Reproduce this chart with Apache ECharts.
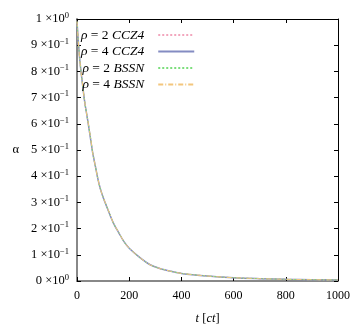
<!DOCTYPE html>
<html><head><meta charset="utf-8">
<script src="https://cdn.jsdelivr.net/npm/echarts@6/dist/echarts.min.js"></script>
<style>html,body{margin:0;padding:0;background:#fff}#c{width:362px;height:332px}</style>
</head><body><div id="c"></div>
<script>
const times = [0,10,20,30,40,50,60,70,80,90,100,120,140,160,180,200,240,280,320,360,400,500,600,700,800,900,1000];
const rho2CCZ4 = [0.99,0.85,0.76,0.68,0.62,0.56,0.49,0.44,0.39,0.35,0.32,0.27,0.22,0.185,0.15,0.125,0.09,0.062,0.047,0.037,0.029,0.019,0.0125,0.009,0.0065,0.005,0.004];
const rho4CCZ4 = [0.99,0.85,0.76,0.68,0.62,0.555,0.49,0.44,0.39,0.35,0.32,0.268,0.22,0.184,0.15,0.125,0.09,0.062,0.047,0.037,0.029,0.019,0.0125,0.009,0.0065,0.005,0.004];
const rho2BSSN = [0.99,0.85,0.76,0.68,0.62,0.56,0.49,0.44,0.39,0.35,0.32,0.27,0.22,0.185,0.15,0.125,0.09,0.062,0.047,0.037,0.029,0.019,0.0125,0.009,0.0065,0.005,0.004];
const rho4BSSN = [0.99,0.85,0.76,0.68,0.62,0.56,0.49,0.44,0.39,0.35,0.32,0.27,0.22,0.185,0.15,0.125,0.09,0.062,0.047,0.037,0.029,0.019,0.0125,0.009,0.0065,0.005,0.004];
const seriesNames = ['ρ = 2 CCZ4','ρ = 4 CCZ4','ρ = 2 BSSN','ρ = 4 BSSN'];
const xTicks = [0,200,400,600,800,1000];

const serif = 'Liberation Serif';
function pairs(ys){ return times.map((t,i)=>[t, ys[i]]); }
function yLabel(v){
  const n = Math.round(v*10);
  if (n === 0) return '{m|0 ×10}{e|0}';
  if (n === 10) return '{m|1 ×10}{e|0}';
  return '{m|' + n + ' ×10}{e|−1}';
}
const richY = {
  m:{fontFamily:serif,fontSize:12.5,color:'#000',lineHeight:16},
  e:{fontFamily:serif,fontSize:8.5,color:'#000',verticalAlign:'top',lineHeight:9}
};
const chart = echarts.init(document.getElementById('c'));
const lineCfg = [
  {color:'#f2a6bd', type:[2,2], width:1},
  {color:'#848cc2', type:'solid', width:1.5},
  {color:'#7cde7c', type:[2,2], width:1},
  {color:'#f3c67c', type:[5,2,1,2], width:1}
];
const data = [rho2CCZ4, rho4CCZ4, rho2BSSN, rho4BSSN];
chart.setOption({
  animation:false,
  backgroundColor:'#fff',
  grid:{left:77, top:19, right:24, bottom:51},
  legend:{
    left:76, top:23, orient:'vertical', align:'right',
    itemWidth:36, itemHeight:10, itemGap:2.5,
    itemStyle:{opacity:0},
    data:seriesNames,
    formatter:function(name){
      const p = name.split(' ');
      return '{i|ρ}{n| = ' + p[2] + ' }{i|' + p[3] + '}';
    },
    textStyle:{padding:[0,9,0,0], rich:{
      i:{fontFamily:serif,fontStyle:'italic',fontSize:13.5,color:'#000',lineHeight:14},
      n:{fontFamily:serif,fontSize:13.5,color:'#000',lineHeight:14}
    }}
  },
  xAxis:[
    {type:'value', min:0, max:1000, interval:200, position:'bottom',
     name:'{i|t} {n|[}{i|ct}{n|]}', nameLocation:'middle', nameGap:31,
     nameTextStyle:{rich:{
       i:{fontFamily:serif,fontStyle:'italic',fontSize:12.5,color:'#000'},
       n:{fontFamily:serif,fontSize:12.5,color:'#000'}}},
     axisLine:{show:true,onZero:false,lineStyle:{color:'#888',width:2}},
     axisTick:{show:true,inside:true,length:4,lineStyle:{color:'#000'}},
     axisLabel:{fontFamily:serif,fontSize:12,color:'#000',margin:9,formatter:function(v){return String(v);}},
     splitLine:{show:false}},
    {type:'value', min:0, max:1000, interval:200, position:'top',
     axisLine:{show:true,onZero:false,lineStyle:{color:'#000',width:1}},
     axisTick:{show:true,inside:true,length:4,lineStyle:{color:'#000'}},
     axisLabel:{show:false}, splitLine:{show:false}}
  ],
  yAxis:[
    {type:'value', min:0, max:1, interval:0.1, position:'left',
     name:'α', nameLocation:'middle', nameGap:58, nameRotate:0,
     nameTextStyle:{fontFamily:serif,fontSize:12.5,color:'#000'},
     axisLine:{show:true,onZero:false,lineStyle:{color:'#888',width:2}},
     axisTick:{show:true,inside:true,length:4,lineStyle:{color:'#000'}},
     axisLabel:{formatter:yLabel,rich:richY,margin:8},
     splitLine:{show:false}},
    {type:'value', min:0, max:1, interval:0.1, position:'right',
     axisLine:{show:true,onZero:false,lineStyle:{color:'#000',width:1}},
     axisTick:{show:true,inside:true,length:4,lineStyle:{color:'#000'}},
     axisLabel:{show:false}, splitLine:{show:false}}
  ],
  series: seriesNames.map((nm,i)=>({
    name:nm, type:'line', data:pairs(data[i]), symbol:'none', smooth:0.3,
    xAxisIndex:0, yAxisIndex:0,
    color:lineCfg[i].color,
    lineStyle:{color:lineCfg[i].color, type:lineCfg[i].type, width:lineCfg[i].width}
  }))
});
</script></body></html>
